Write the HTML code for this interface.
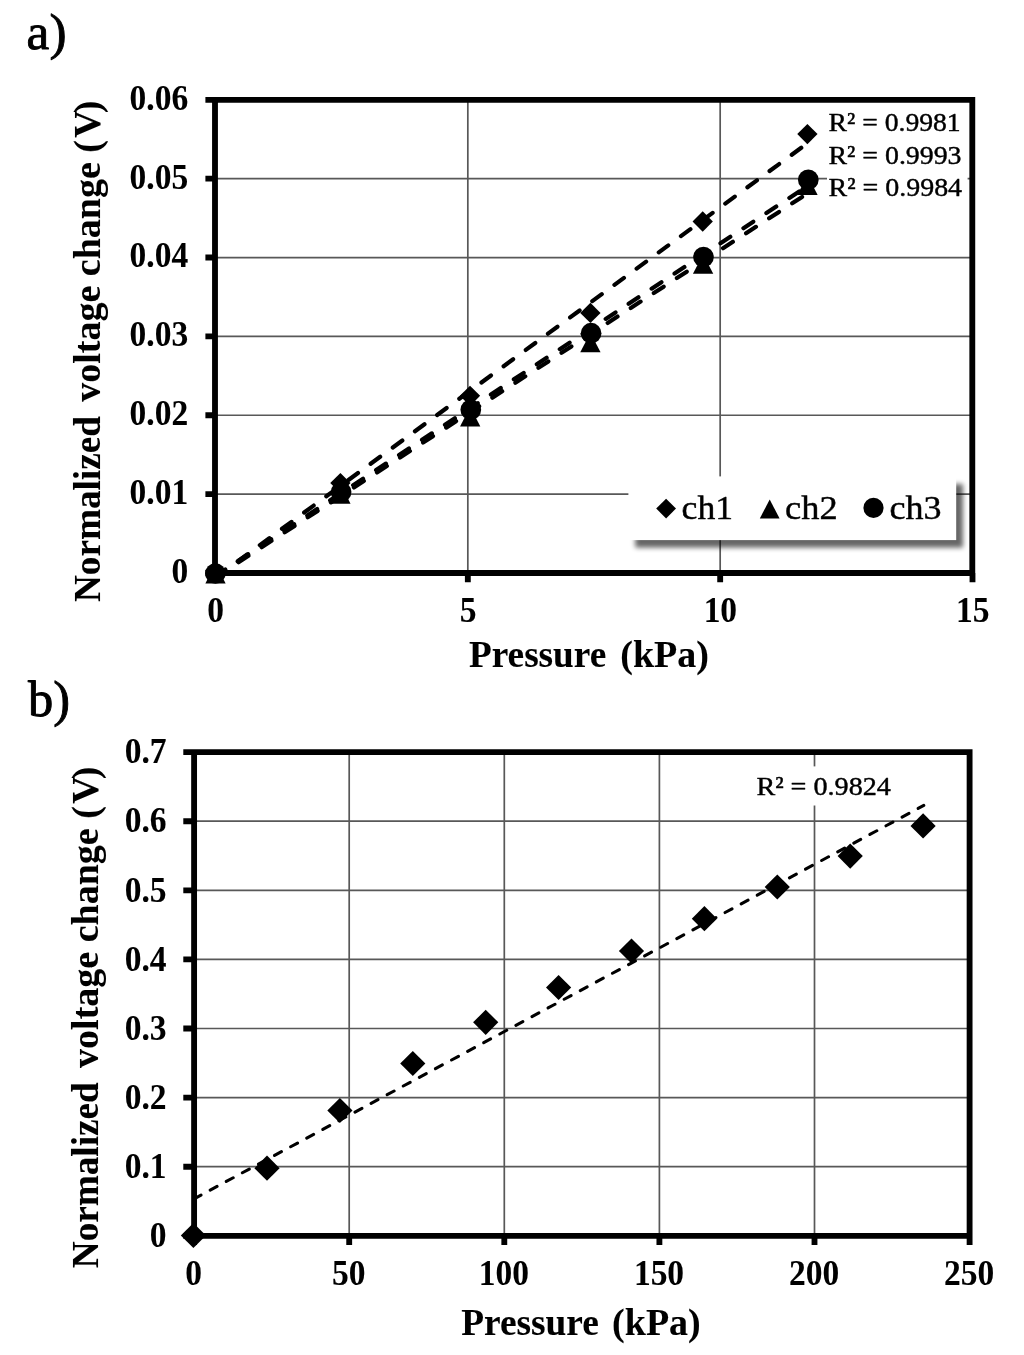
<!DOCTYPE html>
<html lang="en"><head><meta charset="utf-8"><title>Normalized voltage change vs pressure</title>
<style>html,body{margin:0;padding:0;background:#fff}body{width:1024px;height:1355px;overflow:hidden}svg{display:block;filter:blur(0.72px)}text{font-family:'Liberation Serif', 'DejaVu Serif', serif;fill:#000;stroke:#000;stroke-width:.42px;stroke-linejoin:round}text[font-weight]{stroke-width:.1px}</style>
</head><body>
<svg width="1024" height="1355" viewBox="0 0 1024 1355">
<defs><filter id="sh" x="-10%" y="-30%" width="125%" height="170%"><feGaussianBlur in="SourceGraphic" stdDeviation="2.9"/></filter></defs>
<rect width="1024" height="1355" fill="#fff"/>
<path d="M467.83 99.8V573M720.17 99.8V573M215.5 494.13H972.5M215.5 415.27H972.5M215.5 336.4H972.5M215.5 257.53H972.5M215.5 178.67H972.5" stroke="#585858" stroke-width="1.7" fill="none"/>
<path d="M215 99.8H972.3V573H215ZM215.5 573V582.2M467.83 573V582.2M720.17 573V582.2M972.5 573V582.2M205.4 573H215M205.4 494.13H215M205.4 415.27H215M205.4 336.4H215M205.4 257.53H215M205.4 178.67H215M205.4 99.8H215" stroke="#000" stroke-width="5.85" fill="none" stroke-linejoin="miter"/>
<path d="M215.5 577.6L807.4 143.31" stroke="#000" stroke-width="4.2" stroke-linecap="round" stroke-dasharray="11.78 15.71" fill="none"/>
<path d="M215.5 577.13L807.5 193.44" stroke="#000" stroke-width="4.2" stroke-linecap="round" stroke-dasharray="11.78 15.71" fill="none"/>
<path d="M215.4 575.93L808.3 185.48" stroke="#000" stroke-width="4.2" stroke-linecap="round" stroke-dasharray="11.78 15.71" fill="none"/>
<g fill="#000">
<path d="M215.5 562.85L225.65 573L215.5 583.15L205.35 573Z"/>
<path d="M340.4 472.95L350.55 483.1L340.4 493.25L330.25 483.1Z"/>
<path d="M470 385.65L480.15 395.8L470 405.95L459.85 395.8Z"/>
<path d="M590.4 302.75L600.55 312.9L590.4 323.05L580.25 312.9Z"/>
<path d="M702.7 211.35L712.85 221.5L702.7 231.65L692.55 221.5Z"/>
<path d="M807.4 123.95L817.55 134.1L807.4 144.25L797.25 134.1Z"/>
<path d="M215.5 563.75L225.65 583.45L205.35 583.45Z"/>
<path d="M340.4 484.05L350.55 503.75L330.25 503.75Z"/>
<path d="M470.2 406.8L480.35 426.5L460.05 426.5Z"/>
<path d="M590.4 332.65L600.55 352.35L580.25 352.35Z"/>
<path d="M703.1 254.15L713.25 273.85L692.95 273.85Z"/>
<path d="M807.5 175.35L817.65 195.05L797.35 195.05Z"/>
<circle cx="215.4" cy="573.5" r="10.35"/>
<circle cx="341.1" cy="492" r="10.35"/>
<circle cx="470.8" cy="409.8" r="10.35"/>
<circle cx="591.1" cy="333.2" r="10.35"/>
<circle cx="703.5" cy="257" r="10.35"/>
<circle cx="808.3" cy="179.8" r="10.35"/>
</g>
<rect x="827" y="104" width="140.6" height="100" fill="#fff"/>
<text x="828.5" y="131.3" font-size="26" textLength="132.2" lengthAdjust="spacingAndGlyphs">R² = 0.9981</text>
<text x="828.5" y="163.8" font-size="26" textLength="133" lengthAdjust="spacingAndGlyphs">R² = 0.9993</text>
<text x="828.5" y="196.1" font-size="26" textLength="133.6" lengthAdjust="spacingAndGlyphs">R² = 0.9984</text>
<rect x="635.2" y="484" width="327.8" height="63.6" fill="#000" opacity="0.6" filter="url(#sh)"/>
<rect x="628.4" y="476.4" width="327.8" height="63.7" fill="#fff"/>
<g fill="#000"><path d="M666.1 498.7L676 508.6L666.1 518.5L656.2 508.6Z"/><path d="M769.7 499.4L779.6 518.6L759.8 518.6Z"/><circle cx="873.5" cy="507.8" r="10.1"/></g>
<text x="681.6" y="518.6" font-size="33.5" textLength="51.5" lengthAdjust="spacingAndGlyphs">ch1</text>
<text x="785.1" y="518.6" font-size="33.5" textLength="52.5" lengthAdjust="spacingAndGlyphs">ch2</text>
<text x="889.6" y="518.6" font-size="33.5" textLength="52" lengthAdjust="spacingAndGlyphs">ch3</text>
<text x="188.2" y="582.9" font-size="35.2" font-weight="bold" text-anchor="end" textLength="16.74" lengthAdjust="spacingAndGlyphs">0</text>
<text x="188.2" y="504.03" font-size="35.2" font-weight="bold" text-anchor="end" textLength="58.58" lengthAdjust="spacingAndGlyphs">0.01</text>
<text x="188.2" y="425.17" font-size="35.2" font-weight="bold" text-anchor="end" textLength="58.58" lengthAdjust="spacingAndGlyphs">0.02</text>
<text x="188.2" y="346.3" font-size="35.2" font-weight="bold" text-anchor="end" textLength="58.58" lengthAdjust="spacingAndGlyphs">0.03</text>
<text x="188.2" y="267.43" font-size="35.2" font-weight="bold" text-anchor="end" textLength="58.58" lengthAdjust="spacingAndGlyphs">0.04</text>
<text x="188.2" y="188.57" font-size="35.2" font-weight="bold" text-anchor="end" textLength="58.58" lengthAdjust="spacingAndGlyphs">0.05</text>
<text x="188.2" y="109.7" font-size="35.2" font-weight="bold" text-anchor="end" textLength="58.58" lengthAdjust="spacingAndGlyphs">0.06</text>
<text x="215.7" y="621.9" font-size="35.2" font-weight="bold" text-anchor="middle" textLength="16.74" lengthAdjust="spacingAndGlyphs">0</text>
<text x="468.03" y="621.9" font-size="35.2" font-weight="bold" text-anchor="middle" textLength="16.74" lengthAdjust="spacingAndGlyphs">5</text>
<text x="720.37" y="621.9" font-size="35.2" font-weight="bold" text-anchor="middle" textLength="33.48" lengthAdjust="spacingAndGlyphs">10</text>
<text x="972.7" y="621.9" font-size="35.2" font-weight="bold" text-anchor="middle" textLength="33.48" lengthAdjust="spacingAndGlyphs">15</text>
<text font-size="38" font-weight="bold"><tspan x="469" y="667.4" textLength="137.2" lengthAdjust="spacingAndGlyphs">Pressure</tspan><tspan x="610.8" y="667.4"> (kPa)</tspan></text>
<text transform="translate(100.3 602) rotate(-90)" font-size="38" font-weight="bold"><tspan x="0" y="0" textLength="185.9" lengthAdjust="spacingAndGlyphs">Normalized</tspan><tspan x="190.8" y="0"> voltage change (<tspan dx="2.3">V</tspan><tspan dx="-2.9">)</tspan></tspan></text>
<text x="26.6" y="49.2" font-size="50.4" textLength="39.9" lengthAdjust="spacingAndGlyphs" style="stroke-width:.9px">a)</text>
<path d="M349.2 752.1V1235.8M504.3 752.1V1235.8M659.4 752.1V1235.8M814.5 752.1V1235.8M194.1 1166.7H969.6M194.1 1097.6H969.6M194.1 1028.5H969.6M194.1 959.4H969.6M194.1 890.3H969.6M194.1 821.2H969.6" stroke="#585858" stroke-width="1.7" fill="none"/>
<path d="M194.1 752.1H969.6V1235.8H194.1ZM194.1 1235.8V1244.9M349.2 1235.8V1244.9M504.3 1235.8V1244.9M659.4 1235.8V1244.9M814.5 1235.8V1244.9M969.6 1235.8V1244.9M183.3 1235.8H194.1M183.3 1166.7H194.1M183.3 1097.6H194.1M183.3 1028.5H194.1M183.3 959.4H194.1M183.3 890.3H194.1M183.3 821.2H194.1M183.3 752.1H194.1" stroke="#000" stroke-width="5.85" fill="none" stroke-linejoin="miter"/>
<path d="M194.1 1198.8L923.8 805.4" stroke="#000" stroke-width="3.05" stroke-linecap="round" stroke-dasharray="7.83 10.45" fill="none"/>
<g fill="#000">
<path d="M193.4 1222.9L206 1235.5L193.4 1248.1L180.8 1235.5Z"/>
<path d="M267 1155.6L279.6 1168.2L267 1180.8L254.4 1168.2Z"/>
<path d="M339.9 1097.9L352.5 1110.5L339.9 1123.1L327.3 1110.5Z"/>
<path d="M412.8 1050.9L425.4 1063.5L412.8 1076.1L400.2 1063.5Z"/>
<path d="M485.7 1009.7L498.3 1022.3L485.7 1034.9L473.1 1022.3Z"/>
<path d="M558.6 974.9L571.2 987.5L558.6 1000.1L546 987.5Z"/>
<path d="M631.5 938.4L644.1 951L631.5 963.6L618.9 951Z"/>
<path d="M704.4 906.1L717 918.7L704.4 931.3L691.8 918.7Z"/>
<path d="M777.3 874.4L789.9 887L777.3 899.6L764.7 887Z"/>
<path d="M850.2 843.5L862.8 856.1L850.2 868.7L837.6 856.1Z"/>
<path d="M923.1 813.3L935.7 825.9L923.1 838.5L910.5 825.9Z"/>
</g>
<rect x="753" y="766.4" width="141" height="39.1" fill="#fff"/>
<text x="756.4" y="795.3" font-size="26" textLength="134.5" lengthAdjust="spacingAndGlyphs">R² = 0.9824</text>
<text x="166.6" y="1247" font-size="35.2" font-weight="bold" text-anchor="end" textLength="16.74" lengthAdjust="spacingAndGlyphs">0</text>
<text x="166.6" y="1177.9" font-size="35.2" font-weight="bold" text-anchor="end" textLength="41.84" lengthAdjust="spacingAndGlyphs">0.1</text>
<text x="166.6" y="1108.8" font-size="35.2" font-weight="bold" text-anchor="end" textLength="41.84" lengthAdjust="spacingAndGlyphs">0.2</text>
<text x="166.6" y="1039.7" font-size="35.2" font-weight="bold" text-anchor="end" textLength="41.84" lengthAdjust="spacingAndGlyphs">0.3</text>
<text x="166.6" y="970.6" font-size="35.2" font-weight="bold" text-anchor="end" textLength="41.84" lengthAdjust="spacingAndGlyphs">0.4</text>
<text x="166.6" y="901.5" font-size="35.2" font-weight="bold" text-anchor="end" textLength="41.84" lengthAdjust="spacingAndGlyphs">0.5</text>
<text x="166.6" y="832.4" font-size="35.2" font-weight="bold" text-anchor="end" textLength="41.84" lengthAdjust="spacingAndGlyphs">0.6</text>
<text x="166.6" y="763.3" font-size="35.2" font-weight="bold" text-anchor="end" textLength="41.84" lengthAdjust="spacingAndGlyphs">0.7</text>
<text x="193.7" y="1284.6" font-size="35.2" font-weight="bold" text-anchor="middle" textLength="16.74" lengthAdjust="spacingAndGlyphs">0</text>
<text x="348.8" y="1284.6" font-size="35.2" font-weight="bold" text-anchor="middle" textLength="33.48" lengthAdjust="spacingAndGlyphs">50</text>
<text x="503.9" y="1284.6" font-size="35.2" font-weight="bold" text-anchor="middle" textLength="50.21" lengthAdjust="spacingAndGlyphs">100</text>
<text x="659" y="1284.6" font-size="35.2" font-weight="bold" text-anchor="middle" textLength="50.21" lengthAdjust="spacingAndGlyphs">150</text>
<text x="814.1" y="1284.6" font-size="35.2" font-weight="bold" text-anchor="middle" textLength="50.21" lengthAdjust="spacingAndGlyphs">200</text>
<text x="969.2" y="1284.6" font-size="35.2" font-weight="bold" text-anchor="middle" textLength="50.21" lengthAdjust="spacingAndGlyphs">250</text>
<text font-size="38" font-weight="bold"><tspan x="461.2" y="1335.3" textLength="137.6" lengthAdjust="spacingAndGlyphs">Pressure</tspan><tspan x="602.6" y="1335.3"> (kPa)</tspan></text>
<text transform="translate(98.1 1268.2) rotate(-90)" font-size="38" font-weight="bold"><tspan x="0" y="0" textLength="185.9" lengthAdjust="spacingAndGlyphs">Normalized</tspan><tspan x="190.8" y="0"> voltage change (<tspan dx="2.3">V</tspan><tspan dx="-2.9">)</tspan></tspan></text>
<text x="28.1" y="715.9" font-size="50.4" textLength="42" lengthAdjust="spacingAndGlyphs" style="stroke-width:.9px">b)</text>
</svg></body></html>
